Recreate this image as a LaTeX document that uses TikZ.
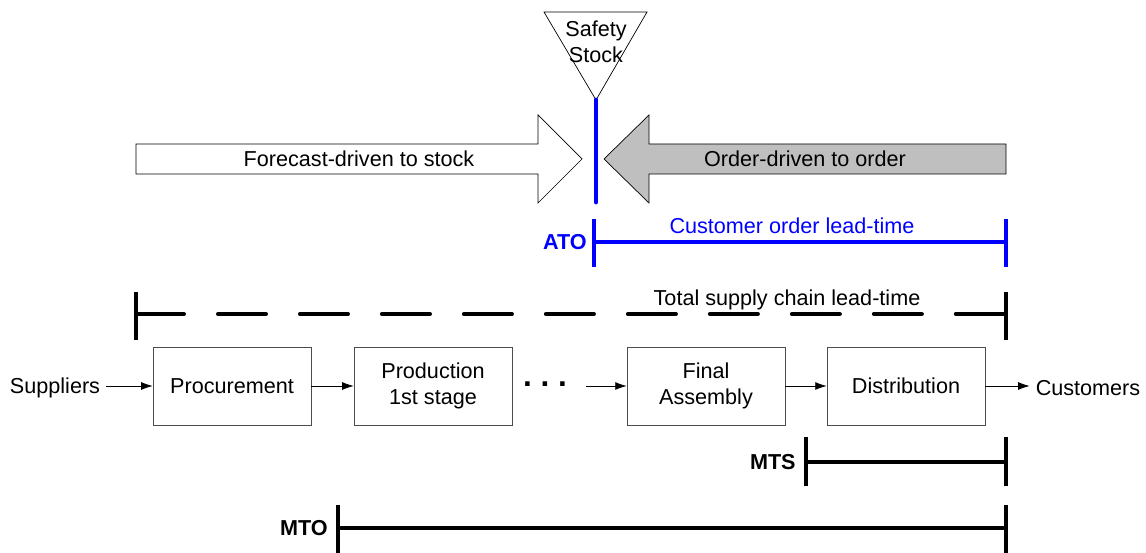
\documentclass[tikz,border=0pt]{standalone}
\usepackage{fontspec}
\setmainfont{Liberation Sans}
\usetikzlibrary{arrows.meta}

\begin{document}
\begin{tikzpicture}[x=0.02cm,y=-0.02cm,
  every node/.style={font=\fontsize{12.3}{14.5}\selectfont},
  stage/.style={draw=black!70,minimum width=3.16cm,minimum height=1.56cm,align=center,inner sep=0pt},
  flow/.style={-{Latex[length=6.5pt,width=4.5pt]},thin},
  span/.style={line width=1.9pt},
  tag/.style={font=\fontsize{12.3}{14.5}\selectfont\bfseries,anchor=east,inner sep=0pt}]
  \useasboundingbox (0,0) rectangle (1146,553);

  % safety stock triangle and decoupling point
  \draw (544,12) -- (647,12) -- (596,100) -- cycle;
  \node[align=center] (stock) at (596,42) {Safety\\Stock};
  \draw[blue,line width=2.8pt,line cap=round] (596,100) -- (596,202);

  % block arrows either side of the decoupling point
  \draw[fill=white] (136,144) -- (538,144) -- (538,115) -- (582,159) -- (538,203) -- (538,174) -- (136,174) -- cycle;
  \node (forecast) at (359,159) {Forecast-driven to stock};
  \draw[fill=black!25] (1006,144) -- (649,144) -- (649,115) -- (604,159) -- (649,203) -- (649,174) -- (1006,174) -- cycle;
  \node (order) at (805,159) {Order-driven to order};

  % customer order lead-time (ATO)
  \draw[span,blue] (594,242) -- (1006,242);
  \draw[span,blue] (594,219) -- (594,267);
  \draw[span,blue] (1006,219) -- (1006,267);
  \node[blue] (colt) at (792,226) {Customer order lead-time};
  \node[tag,blue] (ato) at (587,242) {ATO};

  % total supply chain lead-time
  \draw[line width=2.3pt,line cap=round,dash pattern=on 0.96cm off 0.68cm] (136,314) -- (1006,314);
  \draw[span] (136,292) -- (136,340);
  \draw[span] (1006,292) -- (1006,340);
  \node (total) at (787,300) {Total supply chain lead-time};

  % supply chain stages
  \node (sup) at (55,388) {Suppliers};
  \node[stage] (proc) at (232,386) {Procurement};
  \node[stage] (prod) at (433,386) {Production\\1st stage};
  \node[font=\fontsize{18}{20}\selectfont\bfseries] (dots) at (545,384) {.\hspace{5pt}.\hspace{5pt}.};
  \coordinate (dotsout) at (586,386);
  \node[stage] (final) at (706,386) {Final\\Assembly};
  \node[stage] (dist) at (906,386) {Distribution};
  \node (cust) at (1088,388) {Customers};

  \draw[flow] (sup.east |- proc) -- (proc);
  \draw[flow] (proc) -- (prod);
  \draw[flow] (dotsout) -- (final);
  \draw[flow] (final) -- (dist);
  \draw[flow] (dist) -- (cust.west |- dist);

  % MTS and MTO lead-times
  \draw[span] (806,462) -- (1006,462);
  \draw[span] (806,437) -- (806,486);
  \draw[span] (1006,437) -- (1006,486);
  \node[tag] (mts) at (796,462) {MTS};

  \draw[span] (338,528) -- (1006,528);
  \draw[span] (338,505) -- (338,553);
  \draw[span] (1006,505) -- (1006,553);
  \node[tag] (mto) at (328,528) {MTO};
\end{tikzpicture}
\end{document}
